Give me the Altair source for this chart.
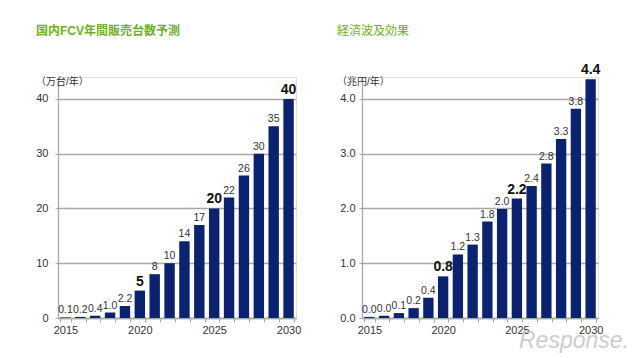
import altair as alt
import pandas as pd

years = ["2015", "2016", "2017", "2018", "2019", "2020", "2021", "2022",
         "2023", "2024", "2025", "2026", "2027", "2028", "2029", "2030"]
shown_years = ["2015", "2020", "2025", "2030"]

fcv_values = [0.1, 0.2, 0.4, 1.0, 2.2, 5, 8, 10, 14, 17, 20, 22, 26, 30, 35, 40]
fcv_labels = ["0.1", "0.2", "0.4", "1.0", "2.2", "5", "8", "10", "14", "17",
              "20", "22", "26", "30", "35", "40"]
fcv_bold = [False, False, False, False, False, True, False, False, False, False,
            True, False, False, False, False, True]

econ_values = [0.02, 0.04, 0.09, 0.18, 0.37, 0.76, 1.16, 1.34, 1.76, 1.99,
               2.18, 2.41, 2.82, 3.27, 3.82, 4.36]
econ_labels = ["0.0", "0.0", "0.1", "0.2", "0.4", "0.8", "1.2", "1.3", "1.8", "2.0",
               "2.2", "2.4", "2.8", "3.3", "3.8", "4.4"]
econ_bold = fcv_bold

NAVY = "#0a2270"
GRAY = "#a8a8a8"
GREEN = "#6cb224"
FONT = "Liberation Sans, Noto Sans CJK JP"


def panel(values, labels, bold, title, title_bold, unit, ymax, yticks, yfmt,
          width, title_dx, label_pad, watermark=False):
    df = pd.DataFrame({"year": years, "value": values, "label": labels, "bold": bold})
    xenc = alt.X(
        "year:N",
        title=None,
        scale=alt.Scale(paddingInner=0.3, paddingOuter=0.15),
        axis=alt.Axis(
            labelExpr="indexof(" + str(shown_years) + ", datum.value) >= 0 ? datum.value : ''",
            labelAngle=0, labelOverlap=False, tickBand="extent", tickSize=4,
            tickColor=GRAY, domainColor=GRAY, domainWidth=1.3, labelFontSize=11,
            labelColor="#333333", labelPadding=2, labelFont=FONT,
        ),
    )
    yenc = alt.Y(
        "value:Q",
        title=None,
        scale=alt.Scale(domain=[0, ymax], nice=False, zero=True),
        axis=alt.Axis(
            values=yticks, format=yfmt, grid=True, gridColor=GRAY, gridWidth=1.3,
            domainColor=GRAY, domainWidth=1.3, tickColor=GRAY, tickSize=3,
            labelFontSize=11, labelColor="#333333", labelPadding=label_pad,
            labelFont=FONT,
        ),
    )
    base = alt.Chart(df).encode(x=xenc)
    bars = base.mark_bar(color=NAVY).encode(y=yenc)
    normal = base.transform_filter("!datum.bold").mark_text(
        fontSize=10.5, color="#333333", baseline="alphabetic", dy=-4, font=FONT
    ).encode(y=alt.Y("value:Q"), text="label:N")
    strong = base.transform_filter("datum.bold").mark_text(
        fontSize=14, fontWeight="bold", color="#111111", baseline="alphabetic",
        dy=-5, font=FONT
    ).encode(y=alt.Y("value:Q"), text="label:N")
    ttl = alt.Chart(alt.Data(values=[{"t": title}])).mark_text(
        fontSize=12, fontWeight="bold" if title_bold else "normal", color=GREEN,
        align="left", baseline="middle", font=FONT
    ).encode(x=alt.value(title_dx), y=alt.value(-46), text="t:N")
    unit_t = alt.Chart(alt.Data(values=[{"t": unit}])).mark_text(
        fontSize=10, color="#333333", align="left", baseline="middle", font=FONT
    ).encode(x=alt.value(title_dx), y=alt.value(5), text="t:N")
    layers = [bars, normal, strong, ttl, unit_t]
    if watermark:
        wm = alt.Chart(alt.Data(values=[{"t": "Response."}])).mark_text(
            fontSize=23, fontStyle="italic", color="#c4c4c4",
            opacity=0.85, align="left", baseline="alphabetic", font=FONT
        ).encode(x=alt.value(157), y=alt.value(271), text="t:N")
        layers.append(wm)
    return alt.layer(*layers).properties(width=width, height=241)


left = panel(fcv_values, fcv_labels, fcv_bold, "国内FCV年間販売台数予測", True,
             "（万台/年）", 44, [0, 10, 20, 30, 40], "d", 238, -22, 7)
right = panel(econ_values, econ_labels, econ_bold, "経済波及効果", False,
              "（兆円/年）", 4.4, [0, 1, 2, 3, 4], ".1f", 236, -25, 4, watermark=True)

chart = alt.hconcat(left, right, spacing=34).properties(
    padding={"left": 27, "top": 16, "right": 0, "bottom": 0}
).configure_view(stroke=None).configure(background="white")

chart.save("out.html", embed_options={"renderer": "svg", "actions": False})
